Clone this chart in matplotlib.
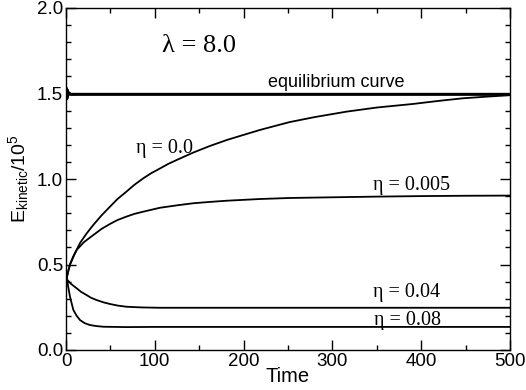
import matplotlib
matplotlib.use("Agg")
import matplotlib.pyplot as plt
from matplotlib.ticker import MultipleLocator, FormatStrFormatter

plt.rcParams['font.family'] = ['Liberation Sans', 'DejaVu Sans']
plt.rcParams['mathtext.default'] = 'regular'

# Equilibrium curve
t_eq = [0, 0.5, 1, 1.5, 2, 3, 5, 100, 200, 300, 400, 500]
v_eq = [1.47, 1.53, 1.47, 1.52, 1.49, 1.505, 1.495, 1.495, 1.495, 1.495, 1.495, 1.495]

# eta = 0.0
t_e0 = [0, 2, 4.5, 10, 15.8, 23, 30.7, 40, 49.5, 58, 68, 77, 87, 96, 106, 115, 124.6, 143, 162, 181,
        200, 218.5, 241, 252, 280, 316, 350, 391, 420, 447, 475, 500]
v_e0 = [0.40, 0.45, 0.50, 0.565, 0.626, 0.68, 0.731, 0.787, 0.838, 0.883, 0.926, 0.966, 1.004, 1.034,
        1.062, 1.088, 1.111, 1.154, 1.193, 1.228, 1.258, 1.287, 1.318, 1.333, 1.362, 1.394, 1.418,
        1.439, 1.457, 1.472, 1.482, 1.490]

# eta = 0.005
t_e1 = [0, 2, 4.5, 8, 12, 20, 30.7, 40, 49.5, 58, 68, 77, 87, 106, 125, 143, 162, 181, 218.5, 252,
        300, 350, 400, 450, 500]
v_e1 = [0.40, 0.45, 0.50, 0.545, 0.585, 0.630, 0.672, 0.708, 0.737, 0.760, 0.780, 0.796, 0.809,
        0.832, 0.846, 0.858, 0.866, 0.873, 0.883, 0.889, 0.893, 0.897, 0.900, 0.902, 0.903]

# eta = 0.04
t_e2 = [0, 1.5, 6, 12, 17, 23, 28, 34.5, 42, 49.5, 58, 68, 85, 106, 162, 250, 350, 500]
v_e2 = [0.42, 0.41, 0.385, 0.361, 0.340, 0.322, 0.306, 0.292, 0.279, 0.269, 0.260, 0.253, 0.249,
        0.247, 0.247, 0.247, 0.247, 0.247]

# eta = 0.08
t_e3 = [0, 1.5, 3, 4.5, 6.5, 8.3, 12, 15.8, 21, 27, 34, 42, 55, 68, 100, 200, 300, 400, 500]
v_e3 = [0.42, 0.40, 0.355, 0.312, 0.27, 0.234, 0.200, 0.175, 0.157, 0.146, 0.140, 0.136, 0.135,
        0.134, 0.135, 0.135, 0.135, 0.135, 0.135]

fig = plt.figure(figsize=(5.26, 3.90), dpi=100)
ax = fig.add_axes([66/526, 40/390, 444/526, 342/390])

ax.plot(t_eq, v_eq, color='black', lw=2.2)
ax.plot(t_e0, v_e0, color='black', lw=1.3)
ax.plot(t_e1, v_e1, color='black', lw=1.3)
ax.plot(t_e2, v_e2, color='black', lw=1.3)
ax.plot(t_e3, v_e3, color='black', lw=1.3)

ax.set_xlim(0, 500)
ax.set_ylim(0, 2.0)
ax.xaxis.set_major_locator(MultipleLocator(100))
ax.xaxis.set_minor_locator(MultipleLocator(50))
ax.yaxis.set_major_locator(MultipleLocator(0.5))
ax.yaxis.set_minor_locator(MultipleLocator(0.1))
ax.tick_params(which='both', direction='in', top=True, right=True, labelsize=13.5, pad=2)
ax.tick_params(which='major', length=7, width=1.0)
ax.tick_params(which='minor', length=3.5, width=1.0)
for s in ax.spines.values():
    s.set_linewidth(1.0)
ax.xaxis.set_major_formatter(FormatStrFormatter('%d'))
ax.yaxis.set_major_formatter(FormatStrFormatter('%.1f'))

ax.set_xlabel('Time', fontsize=14.5, labelpad=-2)
ax.set_ylabel(r'E$_{kinetic}$/10$^5$', fontsize=14, labelpad=4)

serif = ['Liberation Serif', 'DejaVu Serif']
ax.text(150, 1.744, 'λ = 8.0', family=serif, fontsize=19, ha='center', va='baseline')
ax.text(304, 1.536, 'equilibrium curve', fontsize=13, ha='center', va='baseline')
ax.text(111, 1.152, 'η = 0.0', family=serif, fontsize=14.5, ha='center', va='baseline')
ax.text(389, 0.936, 'η = 0.005', family=serif, fontsize=14.5, ha='center', va='baseline')
ax.text(384, 0.312, 'η = 0.04', family=serif, fontsize=14.5, ha='center', va='baseline')
ax.text(385, 0.146, 'η = 0.08', family=serif, fontsize=14.5, ha='center', va='baseline')

fig.savefig('out.png', dpi=100)
